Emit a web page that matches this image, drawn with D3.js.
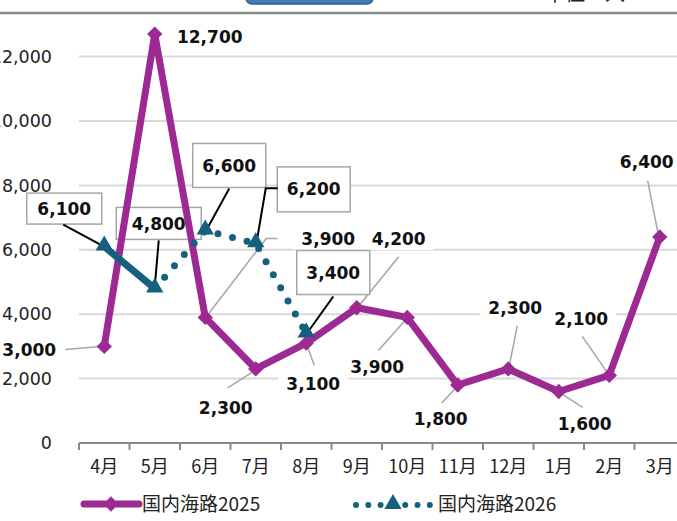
<!DOCTYPE html>
<html>
<head>
<meta charset="utf-8">
<script src="https://cdn.jsdelivr.net/npm/d3@7"></script>
<style>
    body { margin: 0; background: #fff; overflow: hidden; }
    svg { display: block; }
</style>
</head>
<body>
<svg id="chart"></svg>
<script>
// chart data
const months = ['4月', '5月', '6月', '7月', '8月', '9月', '10月', '11月', '12月', '1月', '2月', '3月'];
const values2025 = [3000, 12700, 3900, 2300, 3100, 4200, 3900, 1800, 2300, 1600, 2100, 6400];
const values2026 = [6100, 4800, 6600, 6200, 3400];
const yTicks = [0, 2000, 4000, 6000, 8000, 10000, 12000];
const seriesNames = ['国内海路2025', '国内海路2026'];

// label placement (offsets from the point, in px) - layout only
const labelOffsets2025 = [[-75, 3], [55, 3], [123, -79], [-30, 39], [7, 41], [42, -69], [-30, 49], [-17, 34], [7, -61], [26, 32], [-28, -57], [-13, -75]];
const leaders2025 = [
    [[-39, 3], [-4, 0]], null, [[72, -79], [61, -79], [2, -2]], [[-28, 19], [-3, 3]], [[8, 22], [1, 3]],
    [[42, -51], [3, -3]], [[-29, 33], [-3, 4]], [[-16, 18], [-2, 3]], [[9, -43], [1, -3]],
    [[24, 16], [2, 2]], [[-27, -39], [-2, -3]], [[-12, -56], [-2, -5]]
];
const boxes2026 = [[-40, -38, 75, 31], [4, -65, 85, 32], [24, -65, 73, 44], [58, -54, 73, 45], [27, -61, 73, 44]];
const leaders2026 = [
    [[-41, -22], [-2, -1]], [[4, -48], [0, -2]], [[24, -42], [2, -2]],
    [[22, -55], [10, -55], [1, -2]], [[27, -37], [2, -2]]
];

const W = 677, H = 521;
const purple = '#9c2a92', teal = '#16607f';
const numFont = '"DejaVu Sans", Verdana, sans-serif';
const jpFont = '"Noto Sans CJK JP", "DejaVu Sans", sans-serif';
const fmt = d3.format(',');

const svg = d3.select('#chart').attr('width', W).attr('height', H);

const x = d3.scaleBand().domain(months).range([79, 79 + 12 * 50.5]).padding(0);
const y = d3.scaleLinear().domain([0, 14000]).range([443, -7.8]);
const cx = i => x(months[i]) + x.bandwidth() / 2;

// header bits (cut off at the top)
const grad = svg.append('defs').append('linearGradient').attr('id', 'btn').attr('x1', 0).attr('y1', 0).attr('x2', 0).attr('y2', 1);
grad.append('stop').attr('offset', '0%').attr('stop-color', '#7aa7da');
grad.append('stop').attr('offset', '100%').attr('stop-color', '#3d74b6');
svg.append('rect').attr('x', 246).attr('y', -22).attr('width', 127).attr('height', 26).attr('rx', 6)
    .attr('fill', 'url(#btn)').attr('stroke', '#2f5f94').attr('stroke-width', 1.5);
svg.append('text').attr('x', 545).attr('y', 1).style('font-family', jpFont).style('font-size', '20px')
    .attr('fill', '#222').text('単位：人');
svg.append('line').attr('x1', 0).attr('x2', W).attr('y1', 13).attr('y2', 13)
    .attr('stroke', '#8a8a8a').attr('stroke-width', 2.5);

// gridlines
svg.append('g').selectAll('line').data(yTicks.filter(d => d > 0)).enter().append('line')
    .attr('x1', 79).attr('x2', W).attr('y1', d => y(d)).attr('y2', d => y(d))
    .attr('stroke', '#d9d9d9').attr('stroke-width', 2);

// y axis labels
svg.append('g').selectAll('text').data(yTicks).enter().append('text')
    .attr('x', 52).attr('y', d => y(d)).attr('dy', '0.35em').attr('text-anchor', 'end')
    .style('font-family', numFont).style('font-size', '17.5px').attr('fill', '#222')
    .text(d => fmt(d));

// x axis
const xAxis = d3.axisBottom(x).tickSize(0).tickPadding(17);
const gx = svg.append('g').attr('transform', 'translate(0,443)').call(xAxis);
gx.select('.domain').remove();
gx.selectAll('text').style('font-family', jpFont).style('font-size', '18px').attr('fill', '#222');
svg.append('line').attr('x1', 79).attr('x2', W).attr('y1', 443).attr('y2', 443)
    .attr('stroke', '#8a8a8a').attr('stroke-width', 2);
svg.append('g').selectAll('line').data(d3.range(13)).enter().append('line')
    .attr('x1', i => 79 + i * x.bandwidth()).attr('x2', i => 79 + i * x.bandwidth())
    .attr('y1', 443).attr('y2', 450).attr('stroke', '#8a8a8a').attr('stroke-width', 2);

const pt = (i, v, o) => [cx(i) + o[0], y(v) + o[1]];

// 2025 labels (white background, gray leaders)
const lab25 = svg.append('g');
values2025.forEach((v, i) => {
    const lead = leaders2025[i];
    if (lead) {
        lab25.append('path').attr('d', d3.line()(lead.map(o => pt(i, v, o))))
            .attr('fill', 'none').attr('stroke', '#a6a6a6').attr('stroke-width', 1.5);
    }
});
values2025.forEach((v, i) => {
    const [lx, ly] = pt(i, v, labelOffsets2025[i]);
    const t = lab25.append('text').attr('x', lx).attr('y', ly).attr('dy', '0.36em')
        .attr('text-anchor', 'middle').style('font-family', numFont).style('font-size', '17px')
        .style('font-weight', 'bold').attr('fill', '#111').text(fmt(v));
    const bb = t.node().getBBox();
    lab25.insert('rect', () => t.node()).attr('x', bb.x - 8).attr('y', bb.y - 1)
        .attr('width', bb.width + 16).attr('height', bb.height + 2).attr('fill', '#fff');
});

// 2026 labels (boxed, black leaders)
const lab26 = svg.append('g');
values2026.forEach((v, i) => {
    const b = boxes2026[i];
    const [bx, by] = pt(i, v, b);
    lab26.append('rect').attr('x', bx - b[2] / 2).attr('y', by - b[3] / 2)
        .attr('width', b[2]).attr('height', b[3])
        .attr('fill', '#fff').attr('stroke', '#a6a6a6').attr('stroke-width', 1.5);
    lab26.append('text').attr('x', bx).attr('y', by).attr('dy', '0.36em').attr('text-anchor', 'middle')
        .style('font-family', numFont).style('font-size', '17px').style('font-weight', 'bold')
        .attr('fill', '#111').text(fmt(v));
    lab26.append('path').attr('d', d3.line()(leaders2026[i].map(o => pt(i, v, o))))
        .attr('fill', 'none').attr('stroke', '#000').attr('stroke-width', 2);
});

// 2025 series
const line = d3.line().x(d => cx(d.i)).y(d => y(d.v));
const data25 = values2025.map((v, i) => ({ i, v }));
const data26 = values2026.map((v, i) => ({ i, v }));

svg.append('path').attr('d', line(data25)).attr('fill', 'none')
    .attr('stroke', purple).attr('stroke-width', 7).attr('stroke-linejoin', 'round');
const diamond = d3.symbol().type(d3.symbolDiamond2).size(150);
svg.append('g').selectAll('path').data(data25).enter().append('path')
    .attr('d', diamond).attr('transform', d => `translate(${cx(d.i)},${y(d.v)})`).attr('fill', purple);

// 2026 series: first month solid, rest dotted
svg.append('path').attr('d', line(data26.slice(0, 2))).attr('fill', 'none')
    .attr('stroke', teal).attr('stroke-width', 7);
svg.append('path').attr('d', line(data26.slice(1))).attr('fill', 'none')
    .attr('stroke', teal).attr('stroke-width', 7).attr('stroke-linecap', 'round')
    .attr('stroke-dasharray', '0 15');
const tri = d3.symbol().type(d3.symbolTriangle).size(130);
svg.append('g').selectAll('path').data(data26).enter().append('path')
    .attr('d', tri).attr('transform', d => `translate(${cx(d.i)},${y(d.v) - 1})`).attr('fill', teal);

// legend
const lg = svg.append('g');
lg.append('line').attr('x1', 84).attr('x2', 139).attr('y1', 504).attr('y2', 504)
    .attr('stroke', purple).attr('stroke-width', 7).attr('stroke-linecap', 'round');
lg.append('path').attr('d', diamond).attr('transform', 'translate(111,504)').attr('fill', purple);
lg.append('text').attr('x', 142).attr('y', 504).attr('dy', '0.35em').style('font-family', jpFont)
    .style('font-size', '19px').attr('fill', '#222').text(seriesNames[0]);
lg.append('line').attr('x1', 356).attr('x2', 430).attr('y1', 505).attr('y2', 505)
    .attr('stroke', teal).attr('stroke-width', 6).attr('stroke-linecap', 'round')
    .attr('stroke-dasharray', '0 12.3');
lg.append('path').attr('d', tri).attr('transform', 'translate(393,504)').attr('fill', teal);
lg.append('text').attr('x', 438).attr('y', 504).attr('dy', '0.35em').style('font-family', jpFont)
    .style('font-size', '19px').attr('fill', '#222').text(seriesNames[1]);
</script>
</body>
</html>
